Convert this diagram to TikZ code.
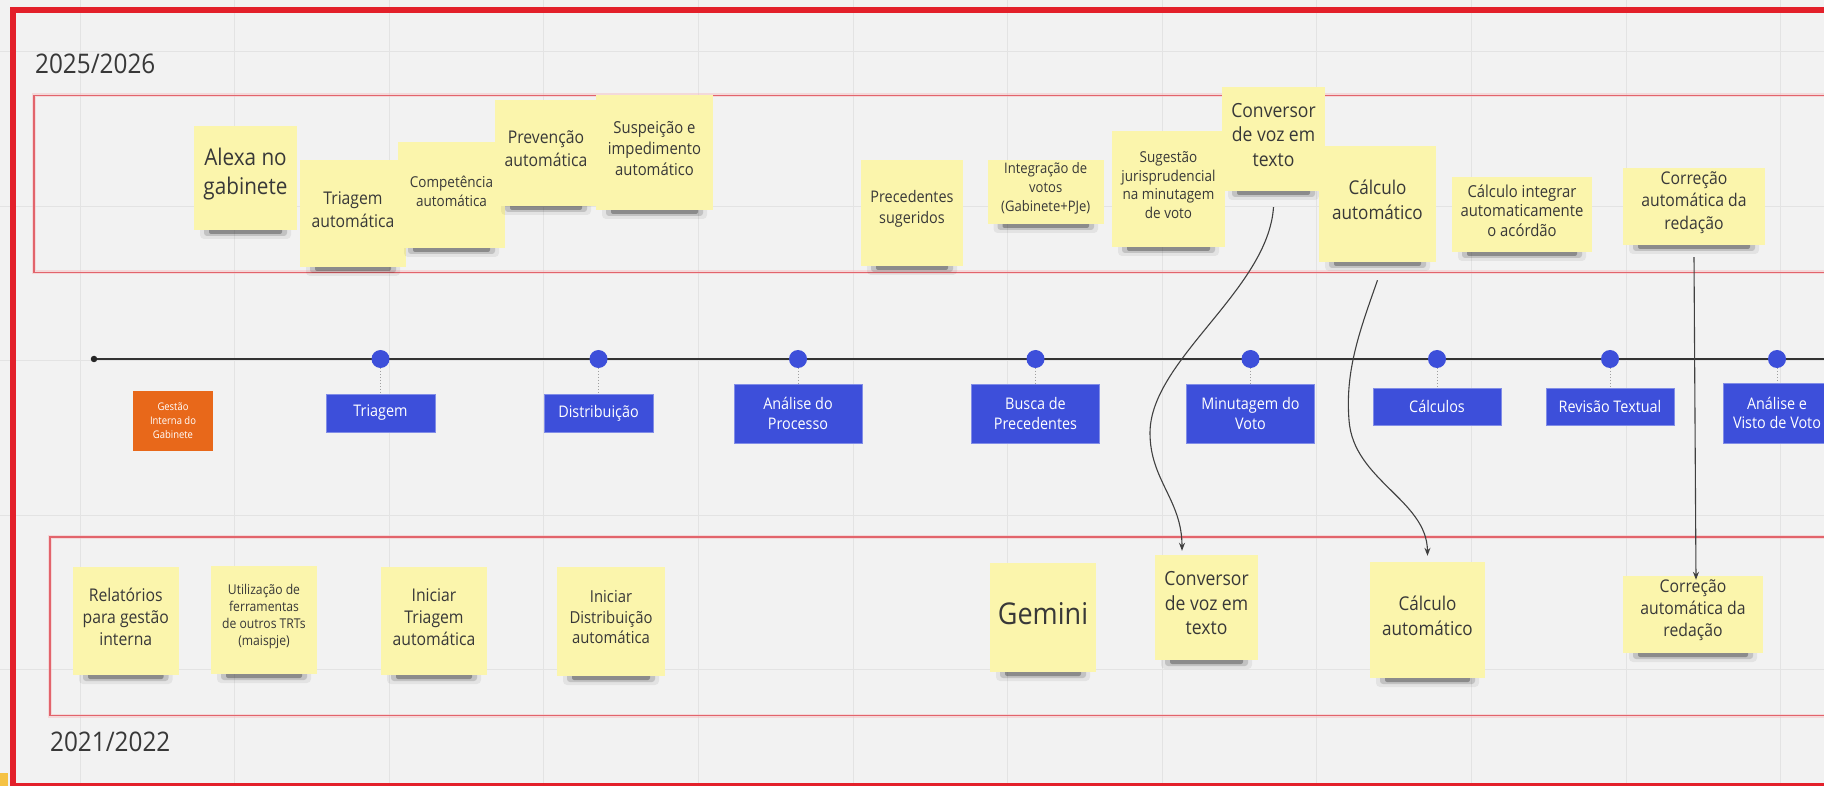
\documentclass[tikz,border=0pt]{standalone}
\usepackage{fontspec}
\setmainfont{Open Sans}[FakeStretch=0.9]
\usetikzlibrary{arrows.meta}
\definecolor{bg}{HTML}{F2F2F2}
\definecolor{gridc}{HTML}{E3E3E3}
\definecolor{framec}{HTML}{E3202A}
\definecolor{innerc}{HTML}{E2646C}
\definecolor{stkc}{HTML}{FBF5AC}
\definecolor{blu}{HTML}{3D4FDA}
\definecolor{org}{HTML}{E8681A}
\definecolor{txt}{HTML}{383838}
\definecolor{goldc}{HTML}{F5C244}
\tikzset{
  stickybox/.style={fill=stkc, inner sep=0pt},
  stickytext/.style={text=txt, align=center, inner sep=0pt},
  bluebox/.style={fill=blu, draw=blu!65!white, line width=0.8pt, text=white, align=center, inner sep=0pt, font=\fontsize{16}{19.5}\selectfont},
  orangebox/.style={fill=org, text=white, align=center, inner sep=0pt, font=\fontsize{10.5}{14}\selectfont},
  tdot/.style={circle, fill=blu, minimum size=18pt, inner sep=0pt},
  tickline/.style={draw=gray!75, line width=1pt, dotted},
  link/.style={draw=black!75, line width=1.1pt, -{Stealth[length=8pt,width=6pt]}},
  region/.style={draw=innerc, line width=1.6pt},
  yearlabel/.style={anchor=base west, inner sep=0pt, text=txt, font=\fontsize{27}{32}\selectfont},
}
\newcommand\stk[8]{%
  \fill[black,opacity=0.06,rounded corners=4pt] ({#2-#4/2+6},{#3+#5/2-6}) rectangle ({#2+#4/2-6},{#3+#5/2+9});
  \fill[black,opacity=0.14,rounded corners=3pt] ({#2-#4/2+10},{#3+#5/2-4}) rectangle ({#2+#4/2-10},{#3+#5/2+6});
  \fill[black,opacity=0.28,rounded corners=2pt] ({#2-#4/2+15},{#3+#5/2-2}) rectangle ({#2+#4/2-15},{#3+#5/2+4});
  \node[stickybox, minimum width=#4pt, minimum height=#5pt] (#1) at (#2,#3) {};
  \node[stickytext, font={\fontsize{#6}{#7}\selectfont}] (#1t) at ([yshift=4pt]#1.center) {#8};
}
\begin{document}
\begin{tikzpicture}[x=1pt,y=-1pt]
\useasboundingbox (0,0) rectangle (1824,786);
\clip (0,0) rectangle (1824,786);
\fill[bg] (0,0) rectangle (1824,786);
% grid
\foreach \k in {0,...,11} { \draw[gridc, line width=1pt] ({80+154.6*\k},0) -- ({80+154.6*\k},786); }
\foreach \k in {0,...,4} { \draw[gridc, line width=1pt] (0,{51.5+154.6*\k}) -- (1824,{51.5+154.6*\k}); }
% frames
\fill[goldc] (0,773) rectangle (8,786);
\draw[framec, line width=6.5pt] (13,10) rectangle (1900,786);
\draw[innerc!40, line width=4pt, opacity=0.5] (34,95.5) rectangle (1900,272.5);
\draw[region] (34,95.5) rectangle (1900,272.5);
\draw[innerc!40, line width=4pt, opacity=0.5] (50,537) rectangle (1900,715.5);
\draw[region] (50,537) rectangle (1900,715.5);
% years
\node[yearlabel] (y25) at (35,74) {2025/2026};
\node[yearlabel] (y21) at (50,751) {2021/2022};
% timeline
\node[circle, fill=black!85, minimum size=6.5pt, inner sep=0pt] (t0) at (94,359) {};
\coordinate (tend) at (1840,359);
\draw[black!80, line width=2.2pt] (t0) -- (tend);
% boxes
\node[orangebox, minimum width=80pt, minimum height=60pt] (gest) at (173,421) {Gestão\\Interna do\\Gabinete};
\node[bluebox, minimum width=109pt, minimum height=38pt] (b1) at (380.5,413) {Triagem};
\node[bluebox, minimum width=109pt, minimum height=38pt] (b2) at (598.5,413) {Distribuição};
\node[bluebox, minimum width=128pt, minimum height=59pt] (b3) at (798,413.5) {Análise do\\Processo};
\node[bluebox, minimum width=128pt, minimum height=59pt] (b4) at (1035.5,413.5) {Busca de\\Precedentes};
\node[bluebox, minimum width=128pt, minimum height=59pt] (b5) at (1250.5,413.5) {Minutagem do\\Voto};
\node[bluebox, minimum width=128pt, minimum height=37pt] (b6) at (1437,406.5) {Cálculos};
\node[bluebox, minimum width=128pt, minimum height=37pt] (b7) at (1610,406.5) {Revisão Textual};
\node[bluebox, minimum width=108pt, minimum height=60pt] (b8) at (1777,413) {Análise e\\Visto de Voto};
% dots
\foreach \i/\x in {1/380.5,2/598.5,3/798,4/1035.5,5/1250.5,6/1437,7/1610,8/1777} {
  \coordinate (dc\i) at (\x,359);
  \draw[tickline] (dc\i) -- (b\i.north);
  \node[tdot] (d\i) at (dc\i) {};
}
% top stickies
\stk{s1}{245.5}{178}{103}{104}{23}{29}{Alexa no\\gabinete}
\stk{s2}{353}{213.5}{106}{107}{17.5}{23}{Triagem\\automática}
\stk{s3}{451.5}{195}{107}{106}{15}{19}{Competência\\automática}
\stk{s4}{546}{153}{102}{106}{17.5}{23}{Prevenção\\automática}
\stk{s5}{654.5}{152.5}{117}{115}{16.5}{21}{Suspeição e\\impedimento\\automático}
\stk{s6}{912}{213}{102}{106}{16}{21}{Precedentes\\sugeridos}
\stk{s7}{1045.75}{192}{116.5}{64}{14.5}{19}{Integração de\\votos\\(Gabinete+PJe)}
\stk{s8}{1168.5}{189}{113}{116}{15}{18.5}{Sugestão\\jurisprudencial\\na minutagem\\de voto}
\stk{tconv}{1273.5}{139}{103}{104}{19.5}{24.5}{Conversor\\de voz em\\texto}
\stk{tcalc}{1377.5}{204}{117}{116}{19}{25}{Cálculo\\automático}
\stk{s11}{1522}{214.5}{140}{75}{16.5}{19.5}{Cálculo integrar\\automaticamente\\o acórdão}
\stk{tcorr}{1694}{206.5}{142}{77}{17.5}{22.5}{Correção\\automática da\\redação}
% bottom stickies
\stk{r1}{125.75}{621}{105.5}{108}{17.5}{22}{Relatórios\\para gestão\\interna}
\stk{r2}{264}{620}{106}{108}{13.5}{17}{Utilização de\\ferramentas\\de outros TRTs\\(maispje)}
\stk{r3}{434}{621}{106}{108}{17.5}{22}{Iniciar\\Triagem\\automática}
\stk{r4}{611}{621.5}{108}{109}{16.5}{20.5}{Iniciar\\Distribuição\\automática}
\stk{gem}{1043}{617.5}{106}{109}{30}{36}{Gemini}
\stk{bconv}{1206.5}{607.5}{103}{105}{19.5}{24.5}{Conversor\\de voz em\\texto}
\stk{bcalc}{1427.5}{620}{115}{116}{19}{24.5}{Cálculo\\automático}
\stk{bcorr}{1693}{614.5}{140}{77}{17.5}{22}{Correção\\automática da\\redação}
% connectors
\draw[link] ([yshift=-16pt]tconv.south) .. controls (1268,290) and (1150,360) .. (1150,433)
  .. controls (1150,480) and (1182,500) .. ([xshift=-24.5pt,yshift=4pt]bconv.north);
\draw[link] ([yshift=-18pt]tcalc.south) .. controls (1360,330) and (1345,370) .. (1349,420)
  .. controls (1353,480) and (1427,500) .. ([yshift=6pt]bcalc.north);
\draw[link] ([yshift=-12pt]tcorr.south) -- ([xshift=3pt,yshift=-4pt]bcorr.north);
\end{tikzpicture}
\end{document}
